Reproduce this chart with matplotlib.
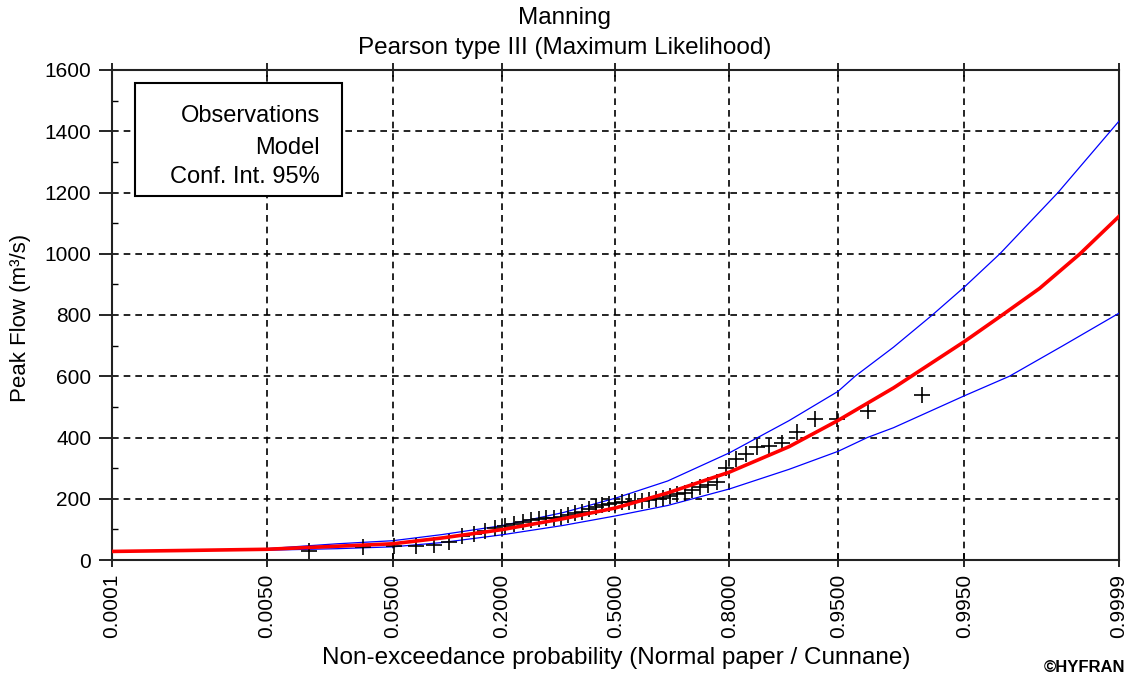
import numpy as np
import matplotlib.pyplot as plt
from matplotlib.patches import Rectangle
from statistics import NormalDist

# observations (Cunnane plotting positions)
obs_p = [0.0117, 0.0313, 0.0508, 0.0703, 0.0898, 0.1094, 0.1289, 0.1484, 0.1680, 0.1875,
         0.2070, 0.2266, 0.2461, 0.2656, 0.2852, 0.3047, 0.3242, 0.3438, 0.3633, 0.3828,
         0.4023, 0.4219, 0.4414, 0.4609, 0.4805, 0.5000, 0.5195, 0.5391, 0.5586, 0.5781,
         0.5977, 0.6172, 0.6367, 0.6563, 0.6758, 0.6953, 0.7148, 0.7344, 0.7539, 0.7734,
         0.7930, 0.8125, 0.8320, 0.8516, 0.8711, 0.8906, 0.9102, 0.9297, 0.9492, 0.9688,
         0.9883]
obs_q = [30, 44, 45, 46, 50, 58, 78, 85, 96, 104,
         110, 118, 124, 130, 133, 136, 138, 142, 148, 153,
         158, 165, 172, 178, 182, 186, 188, 190, 192, 194,
         196, 198, 202, 208, 215, 220, 230, 237, 245, 256,
         300, 330, 345, 368, 372, 382, 418, 460, 462, 487, 538]

# fitted model, Pearson III
mod_p = [0.0001, 0.0007, 0.005, 0.02, 0.05, 0.1, 0.2, 0.35, 0.5, 0.65,
         0.8, 0.9, 0.95, 0.98, 0.995, 0.99786, 0.999134, 0.99970, 0.9999]
mod_q = [28, 31, 35, 45, 53, 72, 99, 135, 170, 219,
         287, 370, 456, 562, 713, 800, 887, 1000, 1122]

# 95% confidence interval
up_p = [0.005, 0.02, 0.05, 0.1, 0.2, 0.35, 0.5, 0.65, 0.8, 0.9,
        0.95, 0.9616, 0.98, 0.99036, 0.995, 0.99774, 0.99946, 0.9999]
up_q = [37, 53, 63, 83, 112, 155, 202, 258, 350, 455,
        551, 600, 695, 800, 891, 1000, 1200, 1433]
lo_p = [0.005, 0.02, 0.05, 0.1, 0.2, 0.35, 0.5, 0.65, 0.8, 0.9,
        0.95, 0.9583, 0.9686, 0.98, 0.995, 0.99819, 0.99952, 0.9999]
lo_q = [32, 37, 43, 57, 82, 113, 144, 178, 232, 296,
        355, 373, 400, 432, 536, 600, 699, 806]

xticks = [0.0001, 0.005, 0.05, 0.2, 0.5, 0.8, 0.95, 0.995, 0.9999]

nd = NormalDist()
_ppf = np.vectorize(nd.inv_cdf, otypes=[float])
_cdf = np.vectorize(nd.cdf, otypes=[float])

def fwd(p):
    p = np.clip(np.asarray(p, dtype=float), 1e-12, 1 - 1e-12)
    return _ppf(p)

def inv(z):
    return _cdf(np.asarray(z, dtype=float))

plt.rcParams['font.family'] = ['Liberation Sans', 'DejaVu Sans']

fig = plt.figure(figsize=(11.3, 6.8), dpi=100)
ax = fig.add_axes([112/1130, 1 - 560/680, (1119 - 112)/1130, (560 - 70)/680])
ax.set_xscale('function', functions=(fwd, inv))

ax.plot(up_p, up_q, color='#0000ff', lw=0.9, zorder=3)
ax.plot(lo_p, lo_q, color='#0000ff', lw=0.9, zorder=3)
ax.plot(obs_p, obs_q, ls='none', marker='+', ms=12, mew=1.2, color='black', zorder=4)
ax.plot(mod_p, mod_q, color='#ff0000', lw=2.6, zorder=5)

ax.set_xlim(0.0001, 0.9999)
ax.set_ylim(0, 1600)
ax.set_xticks(xticks)
ax.set_xticklabels([f'{t:.4f}' for t in xticks], rotation=90, fontsize=15)
ax.xaxis.set_minor_locator(plt.NullLocator())
ax.set_yticks(np.arange(0, 1601, 200))
ax.set_yticks(np.arange(100, 1600, 200), minor=True)
ax.tick_params(axis='y', labelsize=15)
ax.tick_params(axis='x', which='major', direction='inout', length=9.5, width=1.2, pad=5, top=True)
ax.tick_params(axis='y', which='major', direction='out', length=9.5, width=1.2, pad=5.5)
ax.tick_params(which='minor', direction='in', length=4, width=1)

ax.grid(True, which='major', color='black', ls=(0, (4, 3)), lw=1.2)
for s in ax.spines.values():
    s.set_linewidth(1.5)
    s.set_color('#222222')

ax.set_xlabel('Non-exceedance probability (Normal paper / Cunnane)', fontsize=17.5)
ax.xaxis.set_label_coords((616 - 112)/1007, (560 - 647)/490)
ax.set_ylabel('Peak Flow (m³/s)', fontsize=16)
ax.yaxis.set_label_coords((31 - 112)/1007, (560 - 318)/490)

fig.text(0.5, 1 - 18/680, 'Manning', ha='center', va='center', fontsize=17.5)
fig.text(0.5, 1 - 48/680, 'Pearson type III (Maximum Likelihood)', ha='center', va='center', fontsize=17.5)
fig.text(1125/1130, 1 - 668/680, '©HYFRAN', ha='right', va='center', fontsize=12, fontweight='bold')

# legend box (text only, like HYFRAN)
ax.add_patch(Rectangle((0.0229, 0.7429), 0.2056, 0.2306, transform=ax.transAxes,
                       facecolor='white', edgecolor='black', lw=1.5, zorder=6))
for yy, txt in zip([0.906, 0.841, 0.7816], ['Observations', 'Model', 'Conf. Int. 95%']):
    ax.text(0.2066, yy, txt, transform=ax.transAxes, ha='right', va='center', fontsize=17, zorder=7)

fig.savefig('out.png', dpi=100)
